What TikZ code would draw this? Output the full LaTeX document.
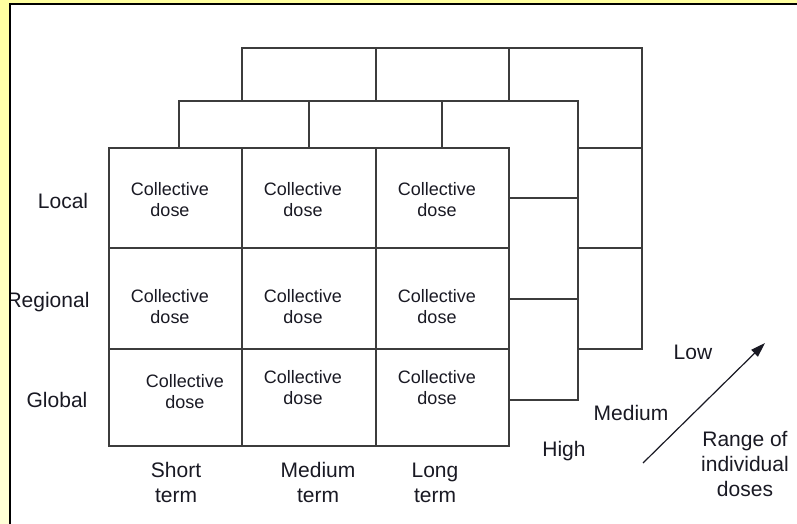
\documentclass[tikz,border=0pt]{standalone}
\usepackage{fontspec}
\setmainfont{Liberation Sans}
\usetikzlibrary{arrows.meta}
\definecolor{frameyellow}{RGB}{255,255,160}
\definecolor{framepale}{RGB}{255,255,215}
\definecolor{linegray}{RGB}{60,60,60}
\definecolor{textdark}{RGB}{25,25,35}
\begin{document}
\begin{tikzpicture}[x=0.75pt,y=-0.75pt,
  cellbox/.style={draw=linegray, line width=1pt, fill=white},
  dosetext/.style={font=\fontsize{13.5}{15.75}\selectfont, text=textdark, align=center, inner sep=0pt},
  axislabel/.style={font=\fontsize{15.75}{18.9}\selectfont, text=textdark, align=center, inner sep=0pt},
  framebar/.style={draw=black, line width=1pt}]
\useasboundingbox (0,0) rectangle (797,524);
% frame
\fill[frameyellow] (0,0) rectangle (797,524);
\shade[top color=frameyellow, bottom color=framepale] (0,0) rectangle (10,524);
\fill[white] (10,4) rectangle (797,524);
\begin{scope}
\clip (10.5,4.5) rectangle (797,524);
% back layer (Low)
\foreach \xa/\xb in {242/376,376/509,509/642}
  \foreach \ya/\yb in {48/148,148/248,248/349}
    \draw[cellbox] (\xa,\ya) rectangle (\xb,\yb);
% middle layer (Medium)
\foreach \xa/\xb in {179/309,309/442,442/578}
  \foreach \ya/\yb in {101/198,198/299,299/400}
    \draw[cellbox] (\xa,\ya) rectangle (\xb,\yb);
% front layer (High)
\foreach \xa/\xb in {109/242,242/376,376/509}
  \foreach \ya/\yb in {148/248,248/349,349/446}
    \draw[cellbox] (\xa,\ya) rectangle (\xb,\yb);
% cell texts
\node[dosetext] (c11) at (170,199.5) {Collective\\dose};
\node[dosetext] (c12) at (303,199.5) {Collective\\dose};
\node[dosetext] (c13) at (437,199.5) {Collective\\dose};
\node[dosetext] (c21) at (170,306.5) {Collective\\dose};
\node[dosetext] (c22) at (303,306.5) {Collective\\dose};
\node[dosetext] (c23) at (437,306.5) {Collective\\dose};
\node[dosetext] (c31) at (185,392) {Collective\\dose};
\node[dosetext] (c32) at (303,388) {Collective\\dose};
\node[dosetext] (c33) at (437,388) {Collective\\dose};
% row labels
\node[axislabel] (local) at (63,201) {Local};
\node[axislabel] (regional) at (48,302) {Regional};
\node[axislabel] (global) at (57,400) {Global};
% column labels
\node[axislabel] (short) at (176,482.5) {Short\\term};
\node[axislabel] (medterm) at (318,482.5) {Medium\\term};
\node[axislabel] (long) at (435,482.5) {Long\\term};
% depth labels
\begin{scope}
\clip (600,300) rectangle (797,358);
\node[axislabel] (low) at (693,352) {Low};
\end{scope}
\node[axislabel] (medium) at (631,413) {Medium};
\node[axislabel] (high) at (564,451) {High};
\node[axislabel] (range) at (745,464) {Range of\\individual\\doses};
% arrow
\coordinate (arrtail) at (643,463);
\coordinate (arrtip) at (765,343);
\draw[textdark, line width=0.9pt, -{Triangle[length=11pt,width=7pt]}] (arrtail) -- (arrtip);
\end{scope}
\draw[framebar] (10,524) -- (10,4) -- (797,4);
\end{tikzpicture}
\end{document}
